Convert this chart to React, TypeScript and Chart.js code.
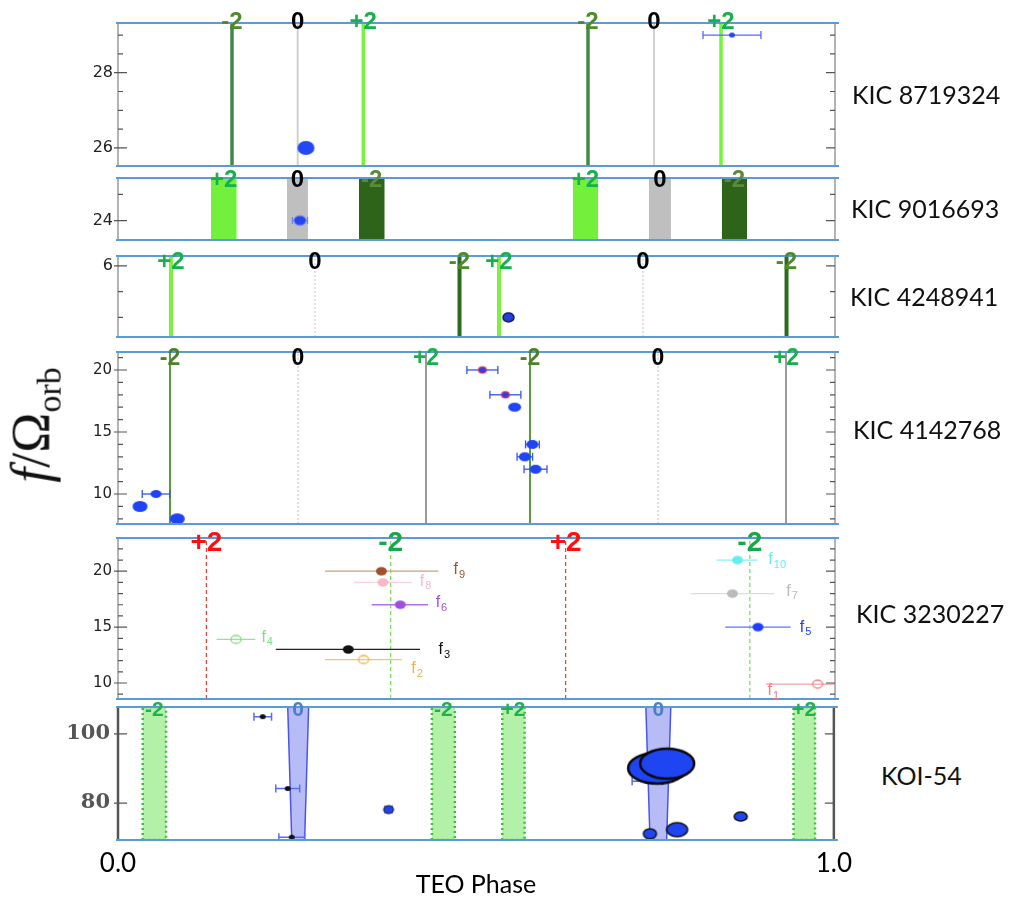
import React, { useEffect, useRef } from 'react';
import { Chart, registerables } from 'chart.js';
Chart.register(...registerables);

// ================= DATA =================
// x: TEO phase (0..1), y: f / Omega_orb

// KIC 8719324
const k1LinePhase = [0.159, 0.2506, 0.3421, 0.6555, 0.7476, 0.841];
const k1LineMode = ['-2', '0', '+2', '-2', '0', '+2'];
const k1Phase = [0.2622, 0.8563];
const k1Freq = [26.0, 29.0];
const k1PhaseErr = [0, 0.0404];
const k1Range = [25.52, 29.32];
const k1Ticks = [26, 26.5, 27, 27.5, 28, 28.5, 29];
const k1TickLabels = [26, 28];

// KIC 9016693
const k2BandPhase = [0.1475, 0.2503, 0.3539, 0.652, 0.7559, 0.8598];
const k2BandHalfWidth = [0.0178, 0.0146, 0.0178, 0.0175, 0.0153, 0.0175];
const k2BandMode = ['+2', '0', '-2', '+2', '0', '-2'];
const k2Phase = [0.2538];
const k2Freq = [24.0];
const k2PhaseErr = [0.0105];
const k2Range = [23.63, 24.81];
const k2Ticks = [24, 24.5];
const k2TickLabels = [24];

// KIC 4248941
const k3LinePhase = [0.0739, 0.2748, 0.4763, 0.5314, 0.7322, 0.9324];
const k3LineMode = ['+2', '0', '-2', '+2', '0', '-2'];
const k3Phase = [0.5446];
const k3Freq = [5.0];
const k3Range = [4.62, 6.19];
const k3Ticks = [5, 5.5, 6];
const k3TickLabels = [6];

// KIC 4142768
const k4LinePhase = [0.0725, 0.251, 0.4296, 0.5746, 0.7531, 0.9317];
const k4LineMode = ['-2', '0', '+2', '-2', '0', '+2'];
const k4Phase = [0.5082, 0.5403, 0.5532, 0.578, 0.5674, 0.5823, 0.053, 0.0307, 0.0827];
const k4Freq = [20, 18, 17, 14, 13, 12, 10, 9, 8];
const k4PhaseErr = [0.0216, 0.0216, 0, 0.0096, 0.0108, 0.016, 0.0192, 0, 0];
const k4Range = [7.58, 21.45];
const k4Ticks = [8, 9, 10, 11, 12, 13, 14, 15, 16, 17, 18, 19, 20, 21];
const k4TickLabels = [10, 15, 20];

// KIC 3230227
const k5LinePhase = [0.1233, 0.3802, 0.6243, 0.8812];
const k5LineMode = ['+2', '-2', '+2', '-2'];
const k5Names = ['1', '2', '3', '4', '5', '6', '7', '8', '9', '10'];
const k5Phase = [0.9757, 0.3425, 0.3212, 0.1646, 0.8926, 0.3937, 0.8569, 0.3696, 0.3674, 0.8641];
const k5Freq = [9.9, 12.1, 13.0, 13.9, 15.0, 17.0, 18.0, 19.0, 20.0, 21.0];
const k5ErrLow = [0.9038, 0.2887, 0.2201, 0.1375, 0.847, 0.3538, 0.7986, 0.3291, 0.2887, 0.8349];
const k5ErrHigh = [1.02, 0.3958, 0.4212, 0.1916, 0.9381, 0.4324, 0.9153, 0.41, 0.4471, 0.8918];
const k5Open = [true, true, false, true, false, false, false, false, false, false];
const k5LabelPhase = [0.906, 0.409, 0.447, 0.2, 0.951, 0.443, 0.932, 0.421, 0.468, 0.907];
const k5LabelFreq = [9.3, 11.3, 13.0, 14.1, 15.0, 17.2, 18.2, 19.1, 20.1, 21.0];
const k5Range = [8.57, 22.97];
const k5Ticks = [9, 10, 11, 12, 13, 14, 15, 16, 17, 18, 19, 20, 21, 22];
const k5TickLabels = [10, 15, 20];

// KOI-54
const k6BandPhase = [0.0508, 0.2517, 0.4545, 0.5524, 0.7548, 0.9587];
const k6BandMode = ['-2', '0', '-2', '+2', '0', '+2'];
const k6BandHalfTop = [0.0163, 0.0146, 0.016, 0.0156, 0.0174, 0.015];
const k6BandHalfBottom = [0.0163, 0.009, 0.016, 0.0156, 0.0116, 0.015];
const k6Phase = [0.2022, 0.2371, 0.2427, 0.378, 0.7392, 0.7531, 0.7671, 0.743, 0.781, 0.8699];
const k6Freq = [105.0, 84.2, 70.1, 78.1, 86.3, 90.1, 91.4, 71.1, 72.3, 76.1];
const k6PhaseErr = [0.0123, 0.0167, 0.018, 0.005, 0.021, 0, 0, 0, 0, 0];
const k6Range = [69.3, 107.8];
const k6Ticks = [80, 100];
const k6TickLabels = [80, 100];

const xTickValues = [0, 1];
const starNames = ['KIC 8719324', 'KIC 9016693', 'KIC 4248941', 'KIC 4142768', 'KIC 3230227', 'KOI-54'];

// ================= STYLE / LAYOUT =================
const CW = 860;
const PAD = 26;
const AREA_RIGHT = 835;
const AXIS_W = 118;
const panelBox = [
  { top: 23, bottom: 166 },
  { top: 178, bottom: 240 },
  { top: 256, bottom: 337 },
  { top: 352, bottom: 524 },
  { top: 538, bottom: 699 },
  { top: 707, bottom: 840 },
];
const nameBox = [
  { left: 852, cy: 94 },
  { left: 851, cy: 208 },
  { left: 850, cy: 296 },
  { left: 853, cy: 429 },
  { left: 856, cy: 613 },
  { left: 881, cy: 775 },
];

function ell(rx: number, ry: number, fill: string, stroke = '', lw = 0) {
  const pad = Math.ceil(lw) + 1;
  const c = document.createElement('canvas');
  c.width = Math.ceil(2 * rx + 2 * pad);
  c.height = Math.ceil(2 * ry + 2 * pad);
  const g = c.getContext('2d')!;
  g.beginPath();
  g.ellipse(c.width / 2, c.height / 2, rx, ry, 0, 0, Math.PI * 2);
  if (fill) { g.fillStyle = fill; g.fill(); }
  if (stroke && lw) { g.strokeStyle = stroke; g.lineWidth = lw; g.stroke(); }
  return c;
}

function vline(p: number, range: number[], st: any) {
  return {
    type: 'line', data: [{ x: p, y: range[0] }, { x: p, y: range[1] }],
    borderColor: st.color, borderWidth: st.width, borderDash: st.dash || [],
    pointRadius: 0, fill: false, order: 3,
  };
}
function band(p: number, hwTop: number, hwBot: number, range: number[], st: any) {
  return {
    type: 'line',
    data: [
      { x: p - hwBot, y: range[0] }, { x: p - hwTop, y: range[1] },
      { x: p + hwTop, y: range[1] }, { x: p + hwBot, y: range[0] },
      { x: p - hwBot, y: range[0] },
    ],
    fill: 'shape', backgroundColor: st.fill, borderColor: st.border || 'rgba(0,0,0,0)',
    borderWidth: st.bw || 0, borderDash: st.dash || [], pointRadius: 0, order: 3,
  };
}
function errbar(lo: number, hi: number, y: number, color: string, width: number, cap: number) {
  return {
    type: 'line', data: [{ x: lo, y }, { x: hi, y }],
    borderColor: color, borderWidth: width, fill: false,
    pointStyle: 'line', rotation: 90, pointRadius: cap,
    pointBorderColor: color, pointBorderWidth: width, pointBackgroundColor: color, order: 2,
  };
}
function markers(xs: number[], ys: number[], styles: any[]) {
  return {
    type: 'line', showLine: false,
    data: xs.map((x, i) => ({ x, y: ys[i] })),
    pointStyle: styles, pointRadius: 5, order: 1,
  };
}

const LABEL_FONT = 'bold 24px "Liberation Sans", Arial, sans-serif';
const TICK_FONT_A = { family: 'DejaVu Sans', size: 16 };
const TICK_FONT_B = { family: 'DejaVu Sans', size: 15 };

function buildSpecs() {
  const specs: any[] = [];

  // ---- Panel 1
  {
    const lineSt: any = {
      '-2': { color: '#3e8a4c', width: 3.5 },
      '0': { color: '#d0d0d0', width: 2 },
      '+2': { color: '#74f43c', width: 3.5 },
    };
    const lab: any = { '-2': '#4e8a2c', '0': '#000000', '+2': '#18b04c' };
    const ds: any[] = [];
    k1LinePhase.forEach((p, i) => ds.push(vline(p, k1Range, lineSt[k1LineMode[i]])));
    k1Phase.forEach((p, i) => {
      if (k1PhaseErr[i] > 0) ds.push(errbar(p - k1PhaseErr[i], p + k1PhaseErr[i], k1Freq[i], '#5566ff', 1.3, 4));
    });
    ds.push(markers(k1Phase, k1Freq, [ell(8.5, 7, '#2447f5'), ell(3, 2.5, '#2447f5')]));
    specs.push({
      range: k1Range, ticks: k1Ticks, tickLabels: k1TickLabels,
      tickFont: TICK_FONT_A, tickColor: '#222', tickPad: 5,
      frameColor: '#9a9a9a', frameWidth: 1.5, datasets: ds,
      topLabels: k1LinePhase.map((p, i) => ({ phase: p, text: k1LineMode[i], color: lab[k1LineMode[i]] })),
      labelFont: LABEL_FONT, labelOffset: -1,
    });
  }

  // ---- Panel 2
  {
    const bandSt: any = {
      '+2': { fill: '#72f03c' }, '0': { fill: '#bfbfbf' }, '-2': { fill: '#2d6419' },
    };
    const lab: any = { '-2': '#5a8a3c', '0': '#000000', '+2': '#18b04c' };
    const ds: any[] = [];
    k2BandPhase.forEach((p, i) => ds.push(band(p, k2BandHalfWidth[i], k2BandHalfWidth[i], k2Range, bandSt[k2BandMode[i]])));
    k2Phase.forEach((p, i) => ds.push(errbar(p - k2PhaseErr[i], p + k2PhaseErr[i], k2Freq[i], '#7080ff', 1.3, 3.5)));
    ds.push(markers(k2Phase, k2Freq, [ell(6, 4.8, '#2346f0', '#6a7cf0', 1)]));
    specs.push({
      range: k2Range, ticks: k2Ticks, tickLabels: k2TickLabels,
      tickFont: TICK_FONT_A, tickColor: '#222', tickPad: 5,
      frameColor: '#9a9a9a', frameWidth: 1.5, datasets: ds,
      topLabels: k2BandPhase.map((p, i) => ({ phase: p, text: k2BandMode[i], color: lab[k2BandMode[i]] })),
      labelFont: LABEL_FONT, labelOffset: 2,
    });
  }

  // ---- Panel 3
  {
    const lineSt: any = {
      '+2': { color: '#7cf23f', width: 4 },
      '0': { color: '#c4c4c4', width: 1, dash: [2, 2] },
      '-2': { color: '#2e6a1c', width: 4 },
    };
    const lab: any = { '-2': '#4e8a2c', '0': '#000000', '+2': '#18b04c' };
    const ds: any[] = [];
    k3LinePhase.forEach((p, i) => ds.push(vline(p, k3Range, lineSt[k3LineMode[i]])));
    ds.push(markers(k3Phase, k3Freq, [ell(5.5, 4.5, '#2040e0', '#1a2050', 1.5)]));
    specs.push({
      range: k3Range, ticks: k3Ticks, tickLabels: k3TickLabels,
      tickFont: TICK_FONT_A, tickColor: '#222', tickPad: 5,
      frameColor: '#9a9a9a', frameWidth: 1.5, datasets: ds,
      topLabels: k3LinePhase.map((p, i) => ({ phase: p, text: k3LineMode[i], color: lab[k3LineMode[i]] })),
      labelFont: LABEL_FONT, labelOffset: 6,
    });
  }

  // ---- Panel 4
  {
    const lineSt: any = {
      '-2': { color: '#5a9e3c', width: 2 },
      '0': { color: '#bdbdbd', width: 1, dash: [2, 2] },
      '+2': { color: '#9a9a9a', width: 2 },
    };
    const lab: any = { '-2': '#4e7f2a', '0': '#000000', '+2': '#18b04c' };
    const ds: any[] = [];
    k4LinePhase.forEach((p, i) => ds.push(vline(p, k4Range, lineSt[k4LineMode[i]])));
    k4Phase.forEach((p, i) => {
      if (k4PhaseErr[i] > 0) ds.push(errbar(p - k4PhaseErr[i], p + k4PhaseErr[i], k4Freq[i], '#3355ee', 1.3, 4));
    });
    const b = '#1f44f5';
    const sty = [
      ell(4, 3.2, '#2b3ff0', '#e03040', 1.2), ell(4, 3.2, '#2b3ff0', '#e03040', 1.2),
      ell(6.5, 4.5, b), ell(6, 4.5, b), ell(6, 4.5, b), ell(6, 4.5, b),
      ell(5.5, 4, b), ell(7.5, 5.5, b), ell(7.5, 5.5, b),
    ];
    ds.push(markers(k4Phase, k4Freq, sty));
    specs.push({
      range: k4Range, ticks: k4Ticks, tickLabels: k4TickLabels,
      tickFont: TICK_FONT_B, tickColor: '#222', tickPad: 6,
      frameColor: '#9a9a9a', frameWidth: 1.5, datasets: ds,
      topLabels: k4LinePhase.map((p, i) => ({ phase: p, text: k4LineMode[i], color: lab[k4LineMode[i]] })),
      labelFont: 'bold 23px "Liberation Sans", Arial, sans-serif', labelOffset: 7,
    });
  }

  // ---- Panel 5
  {
    const lineSt: any = {
      '+2': { color: '#e8453c', width: 1.3, dash: [4, 3] },
      '-2': { color: '#7ce060', width: 1.3, dash: [4, 3] },
    };
    const lab: any = { '-2': '#18a84c', '+2': '#ff1010' };
    const fCol = ['#f08080', '#f5b041', '#111111', '#7ee07e', '#1f3fff', '#a050e0', '#bbbbbb', '#f7b8c8', '#a0522d', '#66eeee'];
    const eCol = ['#f4a0a0', '#f8c471', '#222222', '#8ee88e', '#6070ff', '#b070f0', '#dddddd', '#fad0dc', '#c9a080', '#88f0f0'];
    const ds: any[] = [];
    k5LinePhase.forEach((p, i) => ds.push(vline(p, k5Range, lineSt[k5LineMode[i]])));
    k5Phase.forEach((p, i) => ds.push(errbar(k5ErrLow[i], k5ErrHigh[i], k5Freq[i], eCol[i], 1.3, 0)));
    const sty = k5Phase.map((_, i) => k5Open[i] ? ell(5, 4, '', fCol[i], 1.3) : ell(5.5, 4.2, fCol[i]));
    ds.push(markers(k5Phase, k5Freq, sty));
    specs.push({
      range: k5Range, ticks: k5Ticks, tickLabels: k5TickLabels,
      tickFont: TICK_FONT_B, tickColor: '#222', tickPad: 6,
      frameColor: '#9a9a9a', frameWidth: 1.5, datasets: ds,
      topLabels: k5LinePhase.map((p, i) => ({ phase: p, text: k5LineMode[i], color: lab[k5LineMode[i]] })),
      labelFont: 'bold 28px "Liberation Sans", Arial, sans-serif', labelOffset: 5,
      fLabels: k5Names.map((n, i) => ({ phase: k5LabelPhase[i], freq: k5LabelFreq[i], sub: n, color: fCol[i] })),
    });
  }

  // ---- Panel 6
  {
    const bandSt: any = {
      '-2': { fill: 'rgba(130,232,110,0.6)', border: '#3cbf3c', bw: 2.5, dash: [2, 3] },
      '+2': { fill: 'rgba(130,232,110,0.6)', border: '#3cbf3c', bw: 2.5, dash: [2, 3] },
      '0': { fill: 'rgba(95,105,235,0.45)', border: '#4a55ee', bw: 1.5 },
    };
    const lab: any = { '-2': '#22b04a', '0': '#4d7ec6', '+2': '#22b04a' };
    const ds: any[] = [];
    k6BandPhase.forEach((p, i) => ds.push(band(p, k6BandHalfTop[i], k6BandHalfBottom[i], k6Range, bandSt[k6BandMode[i]])));
    k6Phase.forEach((p, i) => {
      if (k6PhaseErr[i] > 0) ds.push(errbar(p - k6PhaseErr[i], p + k6PhaseErr[i], k6Freq[i], '#5a6cf0', 1.5, 4));
    });
    const blk = ell(3, 2.5, '#111');
    const bl = '#1f45f2';
    const sty = [
      blk, blk, blk, ell(5, 4, bl, '#111', 1), blk,
      ell(29, 15.5, bl, '#0a0a0a', 2.5), ell(27, 15, bl, '#0a0a0a', 2.5),
      ell(6.5, 5, bl, '#111', 1.5), ell(10.5, 7, bl, '#111', 1.5), ell(6.5, 4.5, bl, '#111', 1.5),
    ];
    ds.push(markers(k6Phase, k6Freq, sty));
    specs.push({
      range: k6Range, ticks: k6Ticks, tickLabels: k6TickLabels,
      tickFont: { family: 'DejaVu Serif', size: 21, weight: 'bold' }, tickColor: '#555', tickPad: 8,
      frameColor: '#555555', frameWidth: 2.5, datasets: ds,
      topLabels: k6BandPhase.map((p, i) => ({ phase: p, text: k6BandMode[i], color: lab[k6BandMode[i]] })),
      labelFont: 'bold 21px "Liberation Sans", Arial, sans-serif', labelOffset: 3,
      xAxis: true,
    });
  }
  return specs;
}

function decoPlugin(spec: any) {
  return {
    id: 'deco',
    afterDatasetsDraw(chart: any) {
      const { ctx, chartArea: a, scales } = chart;
      const ys = scales.y;
      const xs = scales.x;
      ctx.save();
      // frame
      ctx.strokeStyle = spec.frameColor;
      ctx.lineWidth = spec.frameWidth;
      ctx.beginPath();
      ctx.moveTo(a.left, a.top); ctx.lineTo(a.left, a.bottom);
      ctx.moveTo(a.right, a.top); ctx.lineTo(a.right, a.bottom);
      ctx.stroke();
      // ticks
      ctx.strokeStyle = '#555';
      ctx.lineWidth = 1.2;
      for (const t of ys.ticks) {
        const y = ys.getPixelForValue(t.value);
        const major = spec.tickLabels.includes(t.value);
        const len = major ? 9 : 5;
        ctx.beginPath();
        ctx.moveTo(a.left - (major ? 4 : 0), y); ctx.lineTo(a.left + len, y);
        ctx.moveTo(a.right - len, y); ctx.lineTo(a.right, y);
        ctx.stroke();
      }
      // panel boundary lines
      ctx.strokeStyle = '#5b9bd5';
      ctx.lineWidth = 2;
      ctx.beginPath();
      ctx.moveTo(a.left - 2, a.top); ctx.lineTo(a.right + 4, a.top);
      ctx.moveTo(a.left - 2, a.bottom); ctx.lineTo(a.right + 4, a.bottom);
      ctx.stroke();
      // mode labels
      ctx.font = spec.labelFont;
      ctx.textAlign = 'center';
      ctx.textBaseline = 'middle';
      for (const l of spec.topLabels) {
        ctx.fillStyle = l.color;
        ctx.fillText(l.text, xs.getPixelForValue(l.phase), a.top + spec.labelOffset);
      }
      // frequency labels
      if (spec.fLabels) {
        ctx.textAlign = 'left';
        for (const f of spec.fLabels) {
          const x = xs.getPixelForValue(f.phase);
          const y = ys.getPixelForValue(f.freq);
          ctx.fillStyle = f.color;
          ctx.font = '16px "Liberation Sans", Arial, sans-serif';
          ctx.fillText('f', x, y);
          const w = ctx.measureText('f').width;
          ctx.font = '11px "Liberation Sans", Arial, sans-serif';
          ctx.fillText(f.sub, x + w + 1, y + 5);
        }
      }
      ctx.restore();
    },
  };
}

function makeConfig(spec: any, box: any, canvasH: number) {
  const showX = !!spec.xAxis;
  return {
    type: 'line',
    data: { datasets: spec.datasets },
    options: {
      responsive: false,
      animation: false,
      events: [],
      layout: { padding: { left: 0, right: CW - AREA_RIGHT, top: PAD, bottom: showX ? 0 : PAD } },
      plugins: { legend: { display: false }, tooltip: { enabled: false } },
      scales: {
        x: {
          type: 'linear', min: 0, max: 1, display: showX,
          afterBuildTicks: (s: any) => { s.ticks = xTickValues.map((v) => ({ value: v })); },
          afterFit: (s: any) => { if (showX) s.height = canvasH - PAD - (box.bottom - box.top); },
          grid: { display: false, drawTicks: false },
          border: { display: false },
          ticks: {
            autoSkip: false, maxRotation: 0, padding: 8, color: '#000',
            font: { family: 'Lato', size: 26 },
            callback: (v: any) => Number(v).toFixed(1),
          },
          title: {
            display: showX, text: 'TEO Phase', color: '#000',
            font: { family: 'Lato', size: 25 }, padding: { top: 0, bottom: 2 },
          },
        },
        y: {
          type: 'linear', min: spec.range[0], max: spec.range[1],
          afterFit: (s: any) => { s.width = AXIS_W; },
          afterBuildTicks: (s: any) => { s.ticks = spec.ticks.map((v: number) => ({ value: v })); },
          grid: { display: false, drawTicks: false },
          border: { display: false },
          ticks: {
            autoSkip: false, padding: spec.tickPad, color: spec.tickColor, font: spec.tickFont,
            callback: (v: any) => (spec.tickLabels.includes(v) ? String(v) : ''),
          },
        },
      },
    },
    plugins: [decoPlugin(spec)],
  };
}

export default function App() {
  const refs = useRef<(HTMLCanvasElement | null)[]>([]);
  const geo = panelBox.map((b, i) => {
    const top = b.top - PAD;
    const h = i === panelBox.length - 1 ? 902 - top : b.bottom - b.top + 2 * PAD;
    return { top, h };
  });

  useEffect(() => {
    const specs = buildSpecs();
    const charts = specs.map((s, i) => new Chart(refs.current[i] as HTMLCanvasElement, makeConfig(s, panelBox[i], geo[i].h) as any));
    return () => charts.forEach((c) => c.destroy());
  }, []);

  return (
    <div style={{ position: 'absolute', left: 0, top: 0, width: 1013, height: 902, overflow: 'hidden', background: '#fff' }}>
      {geo.map((g, i) => (
        <canvas
          key={i}
          ref={(el) => { refs.current[i] = el; }}
          width={CW}
          height={g.h}
          style={{ position: 'absolute', left: 0, top: g.top, width: CW, height: g.h }}
        />
      ))}
      {starNames.map((n, i) => (
        <div
          key={n}
          style={{
            position: 'absolute', left: nameBox[i].left, top: nameBox[i].cy - 18, height: 36, lineHeight: '36px',
            fontFamily: 'Lato, "Open Sans", sans-serif', fontSize: 25, color: '#111', whiteSpace: 'nowrap',
          }}
        >
          {n}
        </div>
      ))}
      <div
        style={{
          position: 'absolute', left: 40, top: 425, transform: 'translate(-50%, -50%) rotate(-90deg)',
          fontFamily: '"Liberation Serif", "DejaVu Serif", serif', fontSize: 54, color: '#111', whiteSpace: 'nowrap',
          lineHeight: '60px',
        }}
      >
        <span style={{ fontStyle: 'italic' }}>f</span>/Ω<sub style={{ fontSize: 34 }}>orb</sub>
      </div>
    </div>
  );
}
